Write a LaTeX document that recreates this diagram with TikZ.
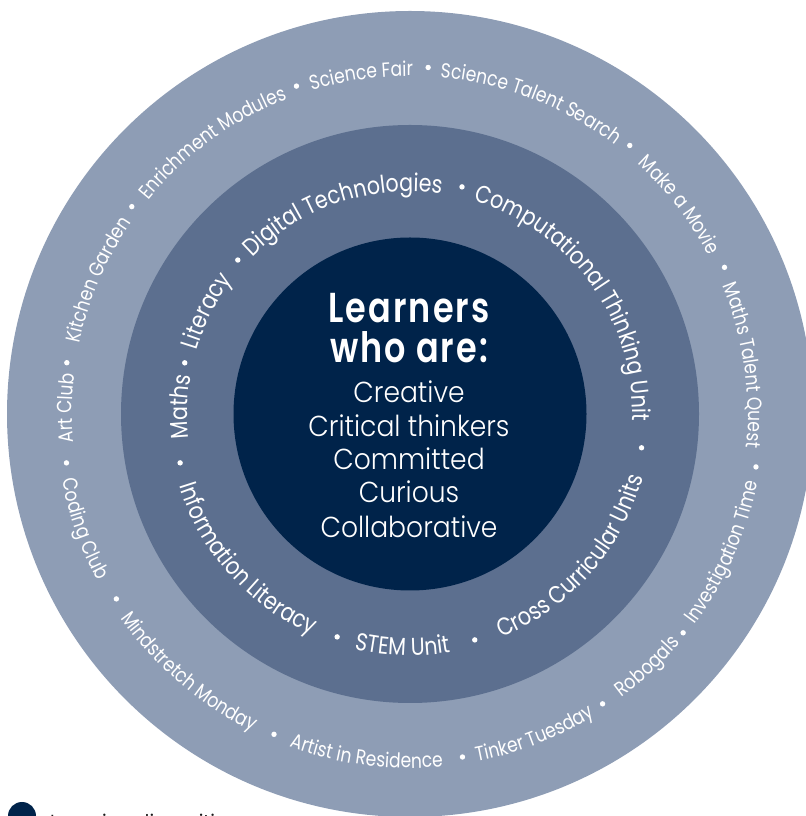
\documentclass[tikz,border=0pt]{standalone}
\usepackage{fontspec}
\usetikzlibrary{decorations.text}
\setmainfont{Poppins}
\newfontfamily\ringfont{Poppins}[FakeStretch=0.84]
\IfFontExistsTF{Poppins Light}{\newfontfamily\bodyfont{Poppins Light}[FakeStretch=0.92]}{\newfontfamily\bodyfont{Poppins}[FakeStretch=0.92]}
\IfFontExistsTF{Poppins SemiBold}{\newfontfamily\headfont{Poppins SemiBold}[FakeStretch=0.8,LetterSpace=5]}{\newfontfamily\headfont{Poppins Bold}[FakeStretch=0.8,LetterSpace=5]}
\definecolor{outerc}{HTML}{8E9DB5}
\definecolor{midc}{HTML}{5C6F8F}
\definecolor{innerc}{HTML}{00234A}
\definecolor{legendc}{HTML}{1A1A1A}
% text along the upper part (clockwise, letter tops outward)
\newcommand\ringtop[4]{\path[shift={(410,402)},decorate,decoration={text along path,text align=center,text color=white,text={|\ringfont\fontsize{#3}{#3}\selectfont|#4}}] ({#2+70}:#1) arc[start angle={#2+70},end angle={#2-70},radius=#1];}
% text along the lower part (counter-clockwise, letter tops inward)
\newcommand\ringbot[4]{\path[shift={(410,402)},decorate,decoration={text along path,text align=center,text color=white,text={|\ringfont\fontsize{#3}{#3}\selectfont|#4}}] ({#2-70}:#1) arc[start angle={#2-70},end angle={#2+70},radius=#1];}
\newcommand\ringdot[2]{\fill[white,shift={(410,402)}] (#2:#1) circle[radius=2.7];}
\begin{document}
\begin{tikzpicture}[x=1bp,y=1bp,
  bodytext/.style={text=white,inner sep=0pt,anchor=base,font=\bodyfont\fontsize{29}{29}\selectfont},
  headtext/.style={text=white,inner sep=0pt,anchor=base,font=\headfont\fontsize{42}{42}\selectfont}]
\useasboundingbox (0,0) rectangle (806,816);
\clip (0,0) rectangle (806,816);
\coordinate (C) at (410,402);
\fill[outerc] (C) circle[radius=403];
\fill[midc] (C) circle[radius=289];
\fill[innerc] (C) circle[radius=176.5];

% ---- outer ring, upper part
\ringtop{338}{179}{20.5}{Art Club}
\ringdot{347}{171.5}
\ringtop{338}{156.7}{20.5}{Kitchen Garden}
\ringdot{347}{143.3}
\ringtop{338}{126}{20.5}{Enrichment Modules}
\ringdot{347}{109.1}
\ringtop{338}{98.2}{20.5}{Science Fair}
\ringdot{347}{87}
\ringtop{338}{68.8}{20.5}{Science Talent Search}
\ringdot{347}{50.7}
\ringtop{338}{37.8}{20.5}{Make a Movie}
\ringdot{347}{25}
\ringtop{338}{8.3}{20.5}{Maths Talent Quest}
\ringdot{350}{-8.7}
\ringdot{347}{188.1}
% ---- outer ring, lower part
\ringbot{354}{199.4}{20.5}{Coding Club}
\ringdot{347}{212.2}
\ringbot{354}{229.4}{20.5}{Mindstretch Monday}
\ringdot{348}{247}
\ringbot{354}{262.7}{20.5}{Artist in Residence}
\ringdot{347}{278.7}
\ringbot{354}{291.2}{20.5}{Tinker Tuesday}
\ringdot{348}{303.6}
\ringbot{354}{313.2}{20.5}{Robogals}
\ringdot{350}{321.3}
\ringbot{354}{336.2}{20.5}{Investigation Time}

% ---- middle ring, upper part
\ringtop{222.5}{178.2}{24.6}{Maths}
\ringdot{231}{167.2}
\ringtop{222.5}{153.2}{24.6}{Literacy}
\ringdot{231}{138.2}
\ringtop{222.5}{108.5}{24.6}{Digital Technologies}
\ringdot{233}{77.1}
\ringtop{222.5}{35.8}{24.6}{Computational Thinking Unit}
\ringdot{234}{-8.3}
\ringdot{235}{192}
% ---- middle ring, lower part
\ringbot{241.5}{221.6}{24.6}{Information Literacy}
\ringdot{234.5}{251.9}
\ringbot{241.5}{268.2}{24.6}{STEM Unit}
\ringdot{235}{286}
\ringbot{241.5}{318.5}{24.6}{Cross Curricular Units}

% ---- centre
\node[headtext] (h1) at (409,493) {Learners};
\node[headtext] (h2) at (409,453) {who are:};
\node[bodytext] (b1) at (409,413) {Creative};
\node[bodytext] (b2) at (409,379) {Critical thinkers};
\node[bodytext] (b3) at (409,346) {Committed};
\node[bodytext] (b4) at (409,313) {Curious};
\node[bodytext] (b5) at (409,278) {Collaborative};

% ---- legend (cut by the lower edge)
\fill[innerc] (22,0) circle[radius=14];
\node[text=legendc,inner sep=0pt,anchor=base west,font=\fontsize{19}{19}\selectfont] (leg) at (50,-12) {Learning dispositions};
\end{tikzpicture}
\end{document}
